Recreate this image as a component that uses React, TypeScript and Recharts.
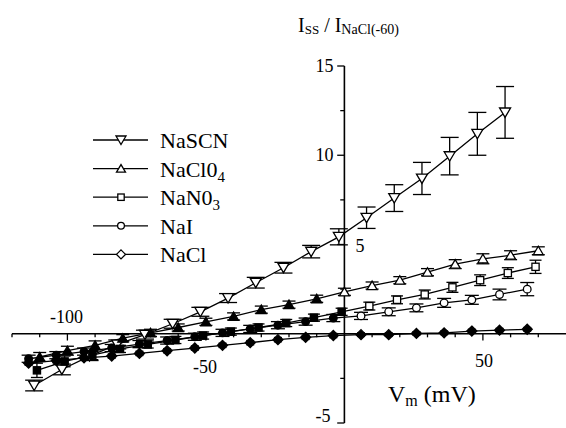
import React from 'react';
import {
  LineChart,
  Line,
  XAxis,
  YAxis,
  ErrorBar,
  ReferenceLine,
  ReferenceDot,
} from 'recharts';

const FONT = 'Liberation Serif, Times New Roman, Times, DejaVu Serif, serif';

// membrane potential (mV), normalised current and its error, per salt
const scnX = [-112, -102, -92, -82, -72, -62, -52, -42, -32, -22, -12, -2, 8, 18, 28, 38, 48, 58];
const scnY = [-2.9, -2.0, -1.25, -0.6, -0.05, 0.56, 1.23, 2.0, 2.86, 3.7, 4.6, 5.43, 6.5, 7.6, 8.7, 9.95, 11.2, 12.4];
const scnE = [0.3, 0.3, 0.25, 0.25, 0.25, 0.25, 0.25, 0.25, 0.3, 0.3, 0.35, 0.45, 0.6, 0.75, 0.9, 1.05, 1.2, 1.45];

const clo4X = [-110, -100, -90, -80, -70, -60, -50, -40, -30, -20, -10, 0, 10, 20, 30, 40, 50, 60, 70];
const clo4Y = [-1.3, -0.95, -0.65, -0.25, 0.05, 0.35, 0.67, 0.97, 1.35, 1.63, 1.96, 2.35, 2.7, 3.0, 3.45, 3.9, 4.2, 4.4, 4.65];
const clo4E = [0.25, 0.25, 0.25, 0.2, 0.2, 0.2, 0.2, 0.2, 0.2, 0.2, 0.2, 0.2, 0.2, 0.2, 0.2, 0.25, 0.28, 0.25, 0.22];

const no3X = [-111, -101, -91, -81, -71, -61, -51, -41, -31, -21, -11, -1, 9, 19, 29, 39, 49, 59, 69];
const no3Y = [-2.05, -1.55, -1.2, -0.85, -0.6, -0.35, -0.1, 0.12, 0.35, 0.6, 0.9, 1.23, 1.55, 1.9, 2.2, 2.6, 3.0, 3.4, 3.75];
const no3E = [0.4, 0.3, 0.25, 0.2, 0.2, 0.2, 0.2, 0.2, 0.2, 0.2, 0.2, 0.2, 0.22, 0.22, 0.25, 0.28, 0.3, 0.3, 0.37];

const naiX = [-114, -104, -94, -84, -74, -64, -54, -44, -34, -24, -14, -4, 6, 16, 26, 36, 46, 56, 66];
const naiY = [-1.4, -1.2, -1.0, -0.8, -0.58, -0.38, -0.17, 0.05, 0.27, 0.48, 0.68, 0.88, 1.0, 1.23, 1.45, 1.73, 1.9, 2.2, 2.5];
const naiE = [0.2, 0.2, 0.2, 0.2, 0.2, 0.2, 0.2, 0.2, 0.2, 0.2, 0.2, 0.2, 0.2, 0.22, 0.22, 0.25, 0.25, 0.3, 0.37];

const naclX = [-114, -104, -94, -84, -74, -64, -54, -44, -34, -24, -14, -4, 6, 16, 26, 36, 46, 56, 66];
const naclY = [-1.65, -1.5, -1.35, -1.25, -1.1, -0.95, -0.8, -0.65, -0.5, -0.33, -0.2, -0.1, -0.05, -0.05, 0.02, 0.05, 0.15, 0.2, 0.25];
const naclE = [0.12, 0.12, 0.12, 0.12, 0.12, 0.12, 0.12, 0.12, 0.12, 0.12, 0.12, 0.12, 0.1, 0.1, 0.1, 0.1, 0.1, 0.1, 0.1];

// axis ticks
const xMajorTicks = [-100, -50, 50];
const xMinorTicks = [-120, -110, -90, -80, -70, -60, -40, -30, -20, -10, 10, 20, 30, 40, 60, 70];
const yMajorTicks = [-5, 5, 10, 15];
const yMinorTicks = [-2.5, 2.5, 7.5, 12.5];

const toRows = (xs: number[], ys: number[], es: number[]) =>
  xs.map((x, i) => ({ x, y: ys[i], e: es[i] }));

type Shape = 'down' | 'up' | 'square' | 'circle' | 'diamond';

const series = [
  { name: 'NaSCN', sub: '', rows: toRows(scnX, scnY, scnE), shape: 'down' as Shape, size: 11, cap: 9, solid: false, darkLeft: false },
  { name: 'NaCl0', sub: '4', rows: toRows(clo4X, clo4Y, clo4E), shape: 'up' as Shape, size: 10, cap: 6.5, solid: false, darkLeft: true },
  { name: 'NaN0', sub: '3', rows: toRows(no3X, no3Y, no3E), shape: 'square' as Shape, size: 9, cap: 6, solid: false, darkLeft: true },
  { name: 'NaI', sub: '', rows: toRows(naiX, naiY, naiE), shape: 'circle' as Shape, size: 9, cap: 7, solid: false, darkLeft: true },
  { name: 'NaCl', sub: '', rows: toRows(naclX, naclY, naclE), shape: 'diamond' as Shape, size: 10, cap: 4, solid: true, darkLeft: false },
];

function Mark({ cx, cy, shape, size, fill }: { cx: number; cy: number; shape: Shape; size: number; fill: string }) {
  if (cx == null || cy == null || isNaN(cx) || isNaN(cy)) return null;
  const s = size / 2;
  const common = { stroke: '#000', strokeWidth: 1.3, fill };
  switch (shape) {
    case 'down':
      return <polygon points={`${cx - s},${cy - s * 0.8} ${cx + s},${cy - s * 0.8} ${cx},${cy + s * 0.9}`} {...common} />;
    case 'up':
      return <polygon points={`${cx - s},${cy + s * 0.8} ${cx + s},${cy + s * 0.8} ${cx},${cy - s * 0.9}`} {...common} />;
    case 'square':
      return <rect x={cx - s * 0.8} y={cy - s * 0.8} width={s * 1.6} height={s * 1.6} {...common} />;
    case 'circle':
      return <circle cx={cx} cy={cy} r={s * 0.85} {...common} />;
    default:
      return <polygon points={`${cx},${cy - s} ${cx + s},${cy} ${cx},${cy + s} ${cx - s},${cy}`} {...common} />;
  }
}

function TickText(props: any) {
  const { viewBox, text, dx = 0, dy = 0, anchor = 'middle' } = props;
  if (!viewBox) return null;
  const x = viewBox.x + (viewBox.width || 0) / 2 + dx;
  const y = viewBox.y + (viewBox.height || 0) / 2 + dy;
  return (
    <text x={x} y={y} textAnchor={anchor} dominantBaseline="central" style={{ fontFamily: FONT }} fontSize={18} fill="#000">
      {text}
    </text>
  );
}

// where each tick label sits relative to its tick
const xLabelPlace: Record<number, { dx: number; dy: number }> = {
  [-100]: { dx: -1, dy: -17 },
  [-50]: { dx: -1, dy: 33 },
  [50]: { dx: 1, dy: 27 },
};
const yLabelPlace: Record<number, { dx: number; dy: number; anchor: string }> = {
  [15]: { dx: -11, dy: 0, anchor: 'end' },
  [10]: { dx: -11, dy: 0, anchor: 'end' },
  [5]: { dx: 11, dy: 1, anchor: 'start' },
  [-5]: { dx: -14, dy: -7, anchor: 'end' },
};

function App() {
  return (
    <div style={{ position: 'absolute', left: 0, top: 0, width: 566, height: 428, background: '#fff', fontFamily: FONT }}>
      <LineChart width={566} height={428} margin={{ top: 66, right: 0, bottom: 5, left: 12 }}>
        <XAxis type="number" dataKey="x" domain={[-120, 80]} hide allowDataOverflow />
        <YAxis type="number" domain={[-5, 15]} hide allowDataOverflow />

        <ReferenceLine y={0} stroke="#000" strokeWidth={1.6} />
        <ReferenceLine segment={[{ x: 0, y: -5 }, { x: 0, y: 15 }]} stroke="#000" strokeWidth={1.6} />
        {xMajorTicks.map((t) => (
          <ReferenceLine key={`xM${t}`} segment={[{ x: t, y: 0 }, { x: t, y: -0.38 }]} stroke="#000" strokeWidth={1.3} />
        ))}
        {xMinorTicks.map((t) => (
          <ReferenceLine key={`xm${t}`} segment={[{ x: t, y: 0 }, { x: t, y: -0.2 }]} stroke="#000" strokeWidth={1.3} />
        ))}
        {yMajorTicks.map((t) => (
          <ReferenceLine key={`yM${t}`} segment={[{ x: 0, y: t }, { x: -2.6, y: t }]} stroke="#000" strokeWidth={1.3} />
        ))}
        {yMinorTicks.map((t) => (
          <ReferenceLine key={`ym${t}`} segment={[{ x: 0, y: t }, { x: -1.5, y: t }]} stroke="#000" strokeWidth={1.3} />
        ))}
        {xMajorTicks.map((t) => (
          <ReferenceDot
            key={`xl${t}`}
            x={t}
            y={0}
            r={1}
            fill="none"
            stroke="none"
            label={<TickText text={String(t)} dx={xLabelPlace[t].dx} dy={xLabelPlace[t].dy} />}
          />
        ))}
        {yMajorTicks.map((t) => (
          <ReferenceDot
            key={`yl${t}`}
            x={0}
            y={t}
            r={1}
            fill="none"
            stroke="none"
            label={<TickText text={String(t)} dx={yLabelPlace[t].dx} dy={yLabelPlace[t].dy} anchor={yLabelPlace[t].anchor} />}
          />
        ))}

        {series.map((s) => (
          <Line
            key={s.name + s.sub}
            name={s.name + s.sub}
            data={s.rows}
            dataKey="y"
            type="linear"
            stroke="#000"
            strokeWidth={1.3}
            isAnimationActive={false}
            activeDot={false}
            dot={(p: any) => (
              <Mark
                key={`${s.name}${s.sub}-${p.index}`}
                cx={p.cx}
                cy={p.cy}
                shape={s.shape}
                size={s.size}
                fill={s.solid || (s.darkLeft && p.payload && p.payload.x < 0) ? '#000' : '#fff'}
              />
            )}
          >
            <ErrorBar dataKey="e" direction="y" width={s.cap} stroke="#000" strokeWidth={1.3} isAnimationActive={false} />
          </Line>
        ))}
      </LineChart>

      <svg width={566} height={428} style={{ position: 'absolute', left: 0, top: 0, pointerEvents: 'none', fontFamily: FONT }}>
        <text x={298} y={32} fontSize={20} fill="#000">
          I<tspan fontSize={13} dy={2}>SS</tspan>
          <tspan dy={-2}> / I</tspan>
          <tspan fontSize={14} dy={2}>NaCl(-60)</tspan>
        </text>
        <text x={388} y={402} fontSize={24} fill="#000">
          V<tspan fontSize={16} dy={4}>m</tspan>
          <tspan dy={-4}> (mV)</tspan>
        </text>
        {series.map((s, i) => {
          const y = 140 + i * 28.6;
          return (
            <g key={`lg${i}`}>
              <line x1={93} x2={148} y1={y} y2={y} stroke="#000" strokeWidth={1.3} />
              <Mark cx={121} cy={y} shape={s.shape} size={s.size - 1} fill="#fff" />
              <text x={160} y={y + 8} fontSize={22} fill="#000">
                {s.name}
                {s.sub ? <tspan fontSize={15} dy={5}>{s.sub}</tspan> : null}
              </text>
            </g>
          );
        })}
      </svg>
    </div>
  );
}

export default App;
